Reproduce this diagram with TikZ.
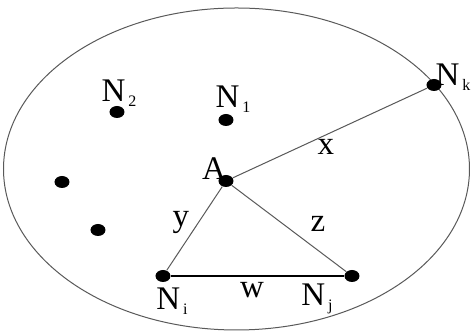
\documentclass[tikz,border=0pt]{standalone}
\usepackage{fontspec}
\setmainfont{Liberation Serif}
\usetikzlibrary{shapes.geometric}
\newcommand{\nsub}[1]{N\kern1.5pt\raisebox{-2.5pt}{\fontsize{8}{9}\selectfont #1}}

\begin{document}
\begin{tikzpicture}[x=0.5pt,y=-0.5pt,
  dot/.style={ellipse,fill=black,inner sep=0pt,minimum width=7.5pt,minimum height=6pt},
  lbl/.style={font=\rmfamily\fontsize{16.5}{19}\selectfont,inner sep=0pt},
  edge/.style={gray!70!black,line width=0.5pt}]
\useasboundingbox (0,0) rectangle (473,335);
\draw[gray!70!black,line width=0.5pt] (236.5,169) ellipse [x radius=233, y radius=161];
% nodes
\node[dot] (nk) at (434,85) {};
\node[dot] (n2) at (117,112) {};
\node[dot] (n1) at (226,120) {};
\node[dot] (a) at (226,181) {};
\node[dot] (p1) at (62,182) {};
\node[dot] (p2) at (98,230) {};
\node[dot] (ni) at (163,276) {};
\node[dot] (nj) at (352,276) {};
% labels
\node[lbl] (ln2) at (119,93) {\nsub{2}};
\node[lbl] (ln1) at (233,99) {\nsub{1}};
\node[lbl] (lnk) at (453,77) {\nsub{k}};
\node[lbl] (la) at (214,169) {A};
\node[lbl] (lni) at (172,301) {\nsub{i}};
\node[lbl] (lnj) at (317,299) {\nsub{j}};
\node[lbl] (lx) at (326,147) {x};
\node[lbl] (ly) at (181,222) {y};
\node[lbl] (lz) at (318,224) {z};
\node[lbl] (lw) at (252,290) {w};
% edges
\draw[edge] (a)--(nk) (a)--(ni) (a)--(nj);
\draw[line width=1pt] (ni)--(nj);
\end{tikzpicture}
\end{document}
